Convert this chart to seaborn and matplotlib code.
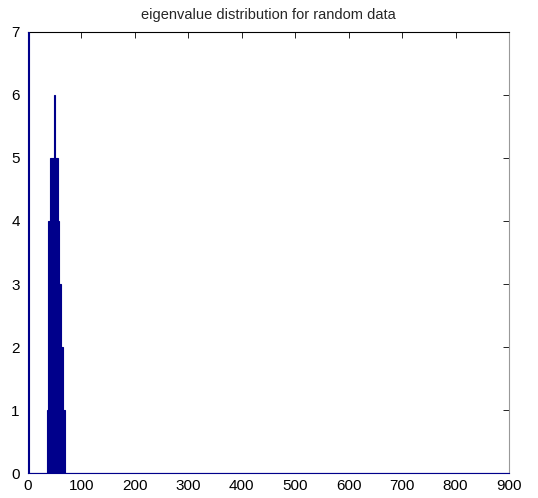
import matplotlib
matplotlib.use("Agg")
import matplotlib.pyplot as plt
import numpy as np
import pandas as pd
import seaborn as sns

# histogram of eigenvalues (bin centres and counts)
bin_width = 1.9
bin_centers = [0.95, 37.05, 38.95, 40.85, 42.75, 44.65, 46.55, 48.45, 50.35,
               52.25, 54.15, 56.05, 57.95, 59.85, 61.75, 63.65, 65.55, 67.45]
counts = [7, 1, 4, 4, 5, 5, 5, 5, 6, 5, 5, 5, 4, 3, 3, 2, 2, 1]
x_ticks = [0, 100, 200, 300, 400, 500, 600, 700, 800, 900]
y_ticks = [0, 1, 2, 3, 4, 5, 6, 7]

df = pd.DataFrame({"eigenvalue": bin_centers, "count": counts})

sns.set_style("white")
plt.rcParams["font.family"] = ["Liberation Sans", "DejaVu Sans"]

fig = plt.figure(figsize=(5.38, 4.98), dpi=100)
ax = fig.add_axes([0.052, 0.050, 0.894, 0.886])

sns.histplot(data=df, x="eigenvalue", weights="count",
             binwidth=bin_width, binrange=(0, 900),
             color="#00008b", edgecolor="#00008b", linewidth=0.8,
             alpha=1, ax=ax)

# matlab-style: bars (incl. empty bins) drawn on top of the axes box
for p in ax.patches:
    p.set_zorder(3)

ax.set_xlim(0, 900)
ax.set_ylim(0, 7)
ax.set_xticks(x_ticks)
ax.set_yticks(y_ticks)
ax.set_xlabel("")
ax.set_ylabel("")
ax.set_title("eigenvalue distribution for random data", fontsize=10.5, pad=9)
ax.tick_params(direction="in", length=4, width=0.6, top=True, right=True,
               labelsize=11, colors="black", pad=4)
ax.tick_params(axis="y", pad=6)
for s in ax.spines.values():
    s.set_visible(True)
    s.set_color("black")
    s.set_linewidth(0.8)
ax.spines["right"].set_color("#999999")
# empty bins show up as a blue line along the base
ax.spines["bottom"].set_color("#00008b")
ax.spines["left"].set_color("#00008b")

fig.savefig("out.png", dpi=100)
